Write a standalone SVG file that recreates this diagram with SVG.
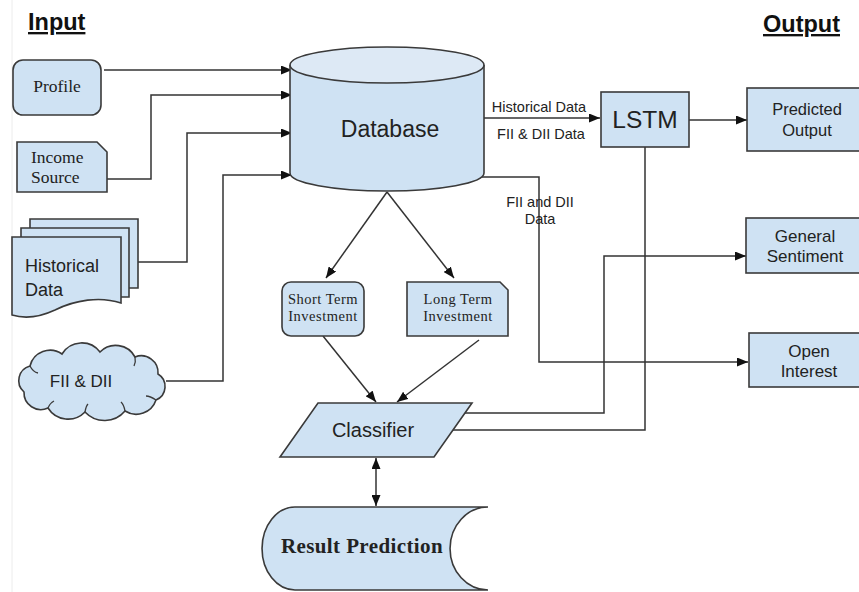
<svg xmlns="http://www.w3.org/2000/svg" width="859" height="592" viewBox="0 0 859 592">
<defs>
<marker id="ah" markerUnits="userSpaceOnUse" markerWidth="11" markerHeight="9" refX="11" refY="4.5" orient="auto-start-reverse"><path d="M0,0 L11,4.5 L0,9 z" fill="#111"/></marker>
<style>
.s{fill:#cfe2f3;stroke:#3a3a3a;stroke-width:1.6}
.c{fill:none;stroke:#333;stroke-width:1.5}
.curl{fill:none;stroke:#3a3a3a;stroke-width:1.3}
.a{marker-end:url(#ah)}
.sans{font-family:"Liberation Sans",Arial,sans-serif;fill:#222}
.serif{font-family:"Liberation Serif","Times New Roman",serif;fill:#222}
.mid{text-anchor:middle}
.title{font-family:"Liberation Sans",Arial,sans-serif;font-weight:bold;fill:#111;text-decoration:underline}
</style>
</defs>
<rect width="859" height="592" fill="#fff"/>
<line x1="12" y1="0" x2="12" y2="592" stroke="#ececec" stroke-width="1"/>
<text class="title" x="28" y="30" font-size="23.5">Input</text>
<text class="title" x="763" y="32" font-size="23.5">Output</text>

<g id="connectors">
<path class="c a" d="M104 70 H292"/>
<path class="c a" d="M107 179 H151 V95 H292"/>
<path class="c a" d="M138 262 H187 V133 H292"/>
<path class="c a" d="M166 381 H223 V175 H292"/>
<path class="c a" d="M484 118 H600"/>
<path class="c a" d="M478 177 H539 V362 H748"/>
<path class="c a" d="M689 120 H747"/>
<path class="c a" d="M387 192 L326 278"/>
<path class="c a" d="M387 192 L454 278"/>
<path class="c a" d="M323 336 L376 402"/>
<path class="c a" d="M479 340 L397 402"/>
<path class="c a" d="M465 413 H604 V256 H746"/>
<path class="c" d="M453 430 H645 V147"/>
<path class="c a" d="M376 458 V506" marker-start="url(#ah)"/>
<text class="sans mid" x="539" y="112" font-size="14.5">Historical Data</text>
<text class="sans mid" x="541" y="139" font-size="14.5">FII &amp; DII Data</text>
<text class="sans mid" x="540" y="207" font-size="14.5">FII and DII</text>
<text class="sans mid" x="540" y="224" font-size="14.5">Data</text>
</g>

<g id="profile">
<rect class="s" x="13" y="60" width="88" height="55" rx="10"/>
<text class="serif mid" x="57" y="92" font-size="17.5">Profile</text>
</g>

<g id="income-source">
<path class="s" d="M17 142 H97 L107 152 V192 H17 Z"/>
<text class="serif" x="31" y="163" font-size="17.5">Income</text>
<text class="serif" x="31" y="183" font-size="17.5">Source</text>
</g>

<g id="historical-data">
<path class="s" d="M30 219 H138 V288 H30 Z"/>
<path class="s" d="M21 228 H129 V297 H21 Z"/>
<path class="s" d="M12 237 H121 V303 C100 296 75 300 55 310 C40 317 25 319 12 315 Z"/>
<text class="sans" x="25" y="272" font-size="18">Historical</text>
<text class="sans" x="25" y="296" font-size="18">Data</text>
</g>

<g id="fii-dii">
<path class="s" d="M24 392 A15.1 15.1 0 0 1 30 366 A20.7 20.7 0 0 1 62 354 A23 23 0 0 1 100 352 A21.9 21.9 0 0 1 135 357 A16.8 16.8 0 0 1 158 374 A14.6 14.6 0 0 1 156 400 A20.9 20.9 0 0 1 125 411 A26.7 26.7 0 0 1 85 412 A23.7 23.7 0 0 1 48 408 A16.9 16.9 0 0 1 24 392 Z"/>
<path class="curl" d="M30 366 Q33 372 38 373"/>
<path class="curl" d="M135 357 Q136 362 134 366"/>
<path class="curl" d="M156 400 Q150 396 146 396"/>
<path class="curl" d="M125 411 Q124 405 121 402"/>
<path class="curl" d="M85 412 Q86 406 88 404"/>
<path class="curl" d="M48 408 Q50 403 54 401"/>
<text class="sans mid" x="81" y="387" font-size="17">FII &amp; DII</text>
</g>

<g id="database">
<path class="s" d="M290 65 V173 A97 18 0 0 0 484 173 V65"/>
<ellipse cx="387" cy="65" rx="97" ry="18" fill="#dde9f5" stroke="#3a3a3a" stroke-width="1.6"/>
<text class="sans mid" x="390" y="137" font-size="23">Database</text>
</g>

<g id="lstm">
<rect class="s" x="601" y="92" width="88" height="55"/>
<text class="sans mid" x="645" y="128" font-size="24.5">LSTM</text>
</g>

<g id="predicted-output">
<rect class="s" x="747" y="88" width="115" height="63"/>
<text class="sans mid" x="807" y="115" font-size="16.5">Predicted</text>
<text class="sans mid" x="807" y="136" font-size="16.5">Output</text>
</g>

<g id="general-sentiment">
<rect class="s" x="746" y="218" width="116" height="55"/>
<text class="sans mid" x="805" y="242" font-size="17">General</text>
<text class="sans mid" x="805" y="262" font-size="17">Sentiment</text>
</g>

<g id="open-interest">
<rect class="s" x="749" y="333" width="113" height="54"/>
<text class="sans mid" x="809" y="357" font-size="17">Open</text>
<text class="sans mid" x="809" y="377" font-size="17">Interest</text>
</g>

<g id="short-term">
<rect class="s" x="282" y="282" width="82" height="54" rx="9"/>
<text class="serif mid" x="323" y="304" font-size="14.5" letter-spacing="0.5">Short Term</text>
<text class="serif mid" x="323" y="321" font-size="14.5" letter-spacing="0.5">Investment</text>
</g>

<g id="long-term">
<path class="s" d="M407 282 H500 L508 290 V336 H407 Z"/>
<text class="serif mid" x="458" y="304" font-size="14.5" letter-spacing="0.5">Long Term</text>
<text class="serif mid" x="458" y="321" font-size="14.5" letter-spacing="0.5">Investment</text>
</g>

<g id="classifier">
<path class="s" d="M318 403 H472 L434 457 H280 Z"/>
<text class="sans mid" x="373" y="437" font-size="20">Classifier</text>
</g>

<g id="result-prediction">
<path class="s" d="M295 507 A33 41.5 0 0 0 295 590 H488 A38 41.5 0 0 1 488 507 Z"/>
<text class="serif mid" x="362" y="553" font-size="21" font-weight="bold" letter-spacing="0.4">Result Prediction</text>
</g>
</svg>
